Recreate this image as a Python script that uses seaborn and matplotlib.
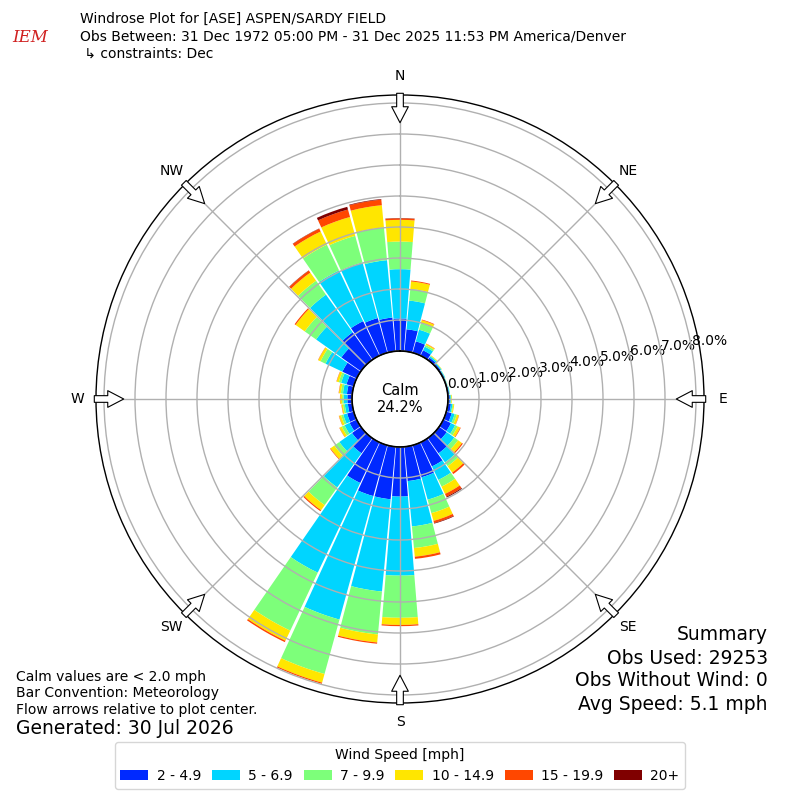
import numpy as np
import matplotlib
matplotlib.use("Agg")
import matplotlib.pyplot as plt
import seaborn as sns
from matplotlib.patches import Patch

sns.set_style("white")
plt.rcParams['font.family'] = ['DejaVu Sans']
plt.rcParams['text.color'] = 'black'
plt.rcParams['axes.labelcolor'] = 'black'
plt.rcParams['xtick.color'] = 'black'
plt.rcParams['ytick.color'] = 'black'

# direction bins (degrees, meteorological) and percent of obs per speed bin
directions = np.arange(0, 360, 10)
speed_labels = ["2 - 4.9", "5 - 6.9", "7 - 9.9", "10 - 14.9", "15 - 19.9", "20+"]
pct_2_5 = [1.05, 0.71, 0.38, 0.19, 0.09, 0.06, 0.04, 0.03, 0.04, 0.06, 0.10, 0.18,
           0.27, 0.30, 0.60, 0.86, 1.07, 1.11, 1.60, 1.70, 1.70, 1.45, 0.60, 0.35,
           0.25, 0.22, 0.14, 0.15, 0.17, 0.24, 0.51, 0.77, 1.09, 1.23, 1.16, 1.09]
pct_5_7 = [1.59, 0.93, 0.39, 0.13, 0.05, 0.03, 0.02, 0.01, 0.02, 0.03, 0.05, 0.10,
           0.15, 0.30, 0.36, 0.48, 0.75, 1.47, 2.55, 2.99, 4.13, 3.20, 1.35, 0.50,
           0.18, 0.13, 0.10, 0.12, 0.13, 0.18, 0.60, 1.00, 1.49, 1.81, 1.86, 1.86]
pct_7_10 = [0.89, 0.38, 0.22, 0.06, 0.02, 0.01, 0.01, 0.01, 0.01, 0.02, 0.03, 0.07,
            0.09, 0.15, 0.15, 0.24, 0.45, 0.70, 1.36, 1.39, 1.82, 2.07, 0.70, 0.20,
            0.10, 0.07, 0.06, 0.05, 0.07, 0.08, 0.18, 0.45, 0.55, 0.92, 0.89, 1.06]
pct_10_15 = [0.70, 0.24, 0.10, 0.04, 0.02, 0.01, 0.00, 0.00, 0.00, 0.02, 0.03, 0.07,
             0.09, 0.15, 0.25, 0.26, 0.26, 0.28, 0.23, 0.26, 0.29, 0.36, 0.20, 0.15,
             0.08, 0.07, 0.04, 0.06, 0.06, 0.07, 0.08, 0.36, 0.32, 0.47, 0.63, 0.72]
pct_15_20 = [0.05, 0.03, 0.02, 0.01, 0.00, 0.00, 0.00, 0.00, 0.00, 0.00, 0.00, 0.01,
             0.02, 0.04, 0.06, 0.10, 0.07, 0.07, 0.04, 0.04, 0.04, 0.05, 0.04, 0.02,
             0.01, 0.01, 0.01, 0.01, 0.01, 0.01, 0.01, 0.04, 0.08, 0.10, 0.25, 0.18]
pct_20 = [0.01, 0.00, 0.00, 0.00, 0.00, 0.00, 0.00, 0.00, 0.00, 0.00, 0.00, 0.00,
          0.00, 0.00, 0.00, 0.03, 0.02, 0.00, 0.00, 0.00, 0.00, 0.00, 0.00, 0.00,
          0.00, 0.00, 0.00, 0.00, 0.00, 0.00, 0.00, 0.00, 0.01, 0.01, 0.09, 0.02]
calm_pct = 24.2
compass = ["N", "NE", "E", "SE", "S", "SW", "W", "NW"]
rings = np.arange(0, 9)

series = [pct_2_5, pct_5_7, pct_7_10, pct_10_15, pct_15_20, pct_20]
colors = plt.get_cmap("jet")(np.linspace(1 / 6, 1, 6))

fig = plt.figure(figsize=(8, 8), dpi=100)
ax = fig.add_axes([0.12, 0.12125, 0.76, 0.76], projection="polar")
ax.set_theta_zero_location("N")
ax.set_theta_direction(-1)
ax.set_rorigin(-1.548)
ax.set_ylim(0, 8.258)

theta = np.deg2rad(directions)
bottom = np.zeros(len(directions))
for vals, col in zip(series, colors):
    vals = np.array(vals)
    ax.bar(theta, vals, width=np.deg2rad(9.3), bottom=bottom, color=col,
           linewidth=0, zorder=1)
    bottom += vals

ax.set_axisbelow(False)
ax.set_rgrids(rings, labels=[f"{r:.1f}%" for r in rings], angle=80, fontsize=10)
ax.set_thetagrids(np.arange(0, 360, 45), labels=[""] * 8)
ax.grid(True, color="#b0b0b0", linewidth=1)
ax.spines["polar"].set_color("black")
ax.spines["polar"].set_linewidth(1)

# calm circle
circ = np.linspace(0, 2 * np.pi, 361)
ax.plot(circ, np.zeros_like(circ), color="black", lw=1.2, zorder=3, clip_on=False)
ax.text(0.5, 0.5, f"Calm\n{calm_pct:.1f}%", transform=ax.transAxes,
        ha="center", va="center", fontsize=10.5, linespacing=1.2)

# compass labels and flow arrows
for i, lab in enumerate(compass):
    a = np.deg2rad(i * 45)
    ax.text(0.5 + 0.531 * np.sin(a), 0.5 + 0.531 * np.cos(a), lab,
            transform=ax.transAxes, ha="center", va="center", fontsize=10)
    ax.annotate("", xy=(0.5 + 0.4544 * np.sin(a), 0.5 + 0.4544 * np.cos(a)),
                xytext=(0.5 + 0.5028 * np.sin(a), 0.5 + 0.5028 * np.cos(a)),
                xycoords="axes fraction", textcoords="axes fraction",
                arrowprops=dict(facecolor="white", edgecolor="black", lw=0.8,
                                width=4.8, headwidth=12, headlength=11.5, shrink=0),
                annotation_clip=False, zorder=5)

# header
fig.text(80 / 800, 1 - 19 / 800, "Windrose Plot for [ASE] ASPEN/SARDY FIELD",
         fontsize=10, va="center")
fig.text(80 / 800, 1 - 37 / 800,
         "Obs Between: 31 Dec 1972 05:00 PM - 31 Dec 2025 11:53 PM America/Denver",
         fontsize=10, va="center")
fig.text(80 / 800, 1 - 54 / 800, " \u21b3 constraints: Dec", fontsize=10, va="center")
fig.text(30 / 800, 1 - 38 / 800, "IEM", fontsize=12, color="#d02020",
         family="DejaVu Serif", style="italic", ha="center", va="center")

# footer notes
fig.text(16 / 800, 1 - 677 / 800, "Calm values are < 2.0 mph", fontsize=10, va="center")
fig.text(16 / 800, 1 - 693 / 800, "Bar Convention: Meteorology", fontsize=10, va="center")
fig.text(16 / 800, 1 - 710 / 800, "Flow arrows relative to plot center.", fontsize=10,
         va="center")
fig.text(16 / 800, 1 - 729 / 800, "Generated: 30 Jul 2026", fontsize=13.5, va="center")

summary = ["Summary", "Obs Used: 29253", "Obs Without Wind: 0", "Avg Speed: 5.1 mph"]
for y, line in zip([635, 659, 681, 705], summary):
    fig.text(768 / 800, 1 - y / 800, line, fontsize=13.5, ha="right", va="center")

handles = [Patch(facecolor=c, edgecolor="none") for c in colors]
fig.legend(handles, speed_labels, loc="center", bbox_to_anchor=(0.5, 1 - 765.5 / 800),
           ncol=6, title="Wind Speed [mph]", fontsize=10, title_fontsize=10,
           handlelength=2.0, handleheight=0.7, handletextpad=0.6,
           columnspacing=0.8, frameon=True)

fig.savefig("out.png", dpi=100)
